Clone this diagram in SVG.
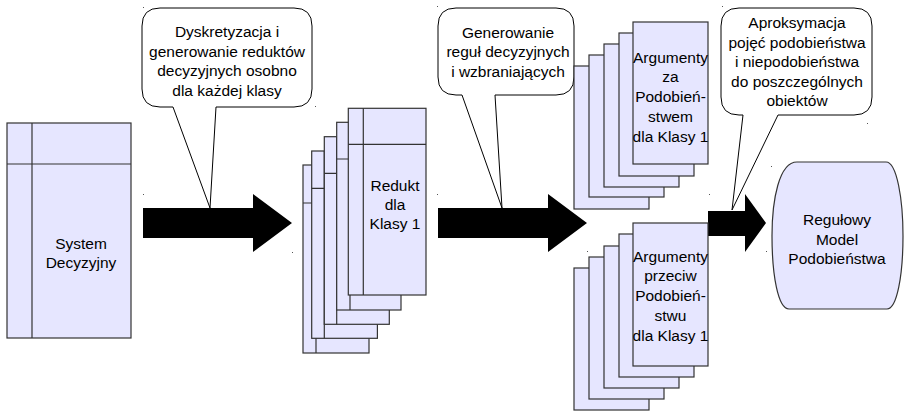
<svg xmlns="http://www.w3.org/2000/svg" width="904" height="411" viewBox="0 0 904 411">
<style>
.card{fill:#e6e6ff;stroke:#333;stroke-width:1.2}
.ln{stroke:#333;stroke-width:1.2;fill:none}
.call{fill:#fff;stroke:#000;stroke-width:1}
.arrow{fill:#000;stroke:none}
.t{font-family:"Liberation Sans",Arial,sans-serif;font-size:15.5px;fill:#000;text-anchor:middle}
.dot{fill:#555}
</style>
<rect width="904" height="411" fill="#fff"/>

<g id="connectors">
<path class="arrow" d="M143,208 H253 V194 L292,223 L253,252 V238 H143 Z"/>
<path class="arrow" d="M438,208 H548 V194 L587,223 L548,252 V238 H438 Z"/>
<path class="arrow" d="M708,211 H745 V194 L766,223 L745,252 V236 H708 Z"/>
</g>

<g id="system-decyzyjny">
<rect class="card" x="7" y="123" width="124" height="215"/>
<line class="ln" x1="32" y1="123" x2="32" y2="338"/>
<line class="ln" x1="7" y1="164" x2="131" y2="164"/>
<text class="t" x="81" y="249">System</text>
<text class="t" x="81" y="268">Decyzyjny</text>
</g>

<g id="callout-1">
<path class="call" d="M160,8 H294 Q312,8 312,26 V89 Q312,107 294,107 H216 L210,208 L173,107 H160 Q142,107 142,89 V26 Q142,8 160,8 Z"/>
<text class="t" x="227" y="37">Dyskretyzacja i</text>
<text class="t" x="227" y="57">generowanie reduktów</text>
<text class="t" x="227" y="76">decyzyjnych osobno</text>
<text class="t" x="227" y="96">dla każdej klasy</text>
</g>

<g id="redukt-stack">
<rect class="card" x="303" y="165" width="66" height="188"/>
<line class="ln" x1="316" y1="165" x2="316" y2="353"/>
<line class="ln" x1="303" y1="203" x2="369" y2="203"/>
<rect class="card" x="311.7" y="151" width="65.7" height="187.3"/>
<line class="ln" x1="324.3" y1="151" x2="324.3" y2="338.3"/>
<line class="ln" x1="311.7" y1="188.3" x2="377.4" y2="188.3"/>
<rect class="card" x="324.3" y="136.7" width="65" height="187.6"/>
<line class="ln" x1="336.7" y1="136.7" x2="336.7" y2="324.3"/>
<line class="ln" x1="324.3" y1="173.3" x2="389.3" y2="173.3"/>
<rect class="card" x="336.7" y="122.3" width="64.3" height="187.7"/>
<line class="ln" x1="350" y1="122.3" x2="350" y2="310"/>
<line class="ln" x1="336.7" y1="159" x2="401" y2="159"/>
<rect class="card" x="348.3" y="108.3" width="77.7" height="186.7"/>
<line class="ln" x1="363.3" y1="108.3" x2="363.3" y2="295"/>
<line class="ln" x1="348.3" y1="144.3" x2="426" y2="144.3"/>
<text class="t" x="395" y="191">Redukt</text>
<text class="t" x="395" y="210">dla</text>
<text class="t" x="395" y="229">Klasy 1</text>
</g>

<g id="callout-2">
<path class="call" d="M456,8 H556 Q574,8 574,26 V77 Q574,95 556,95 H495 L502,208 L462,95 H456 Q438,95 438,77 V26 Q438,8 456,8 Z"/>
<text class="t" x="508" y="38">Generowanie</text>
<text class="t" x="508" y="57">reguł decyzyjnych</text>
<text class="t" x="508" y="77">i wzbraniających</text>
</g>

<g id="argumenty-za">
<rect class="card" x="574" y="66" width="75" height="143"/>
<rect class="card" x="589" y="55" width="75" height="142"/>
<rect class="card" x="604" y="44" width="75" height="143"/>
<rect class="card" x="619" y="33" width="75" height="143"/>
<rect class="card" x="633" y="22" width="75" height="142"/>
<text class="t" x="670.5" y="63">Argumenty</text>
<text class="t" x="670.5" y="82">za</text>
<text class="t" x="670.5" y="102">Podobień-</text>
<text class="t" x="670.5" y="122">stwem</text>
<text class="t" x="670.5" y="142">dla Klasy 1</text>
</g>

<g id="argumenty-przeciw">
<rect class="card" x="574" y="268" width="75" height="142"/>
<rect class="card" x="589" y="257" width="75" height="142"/>
<rect class="card" x="604" y="246" width="75" height="142"/>
<rect class="card" x="619" y="234" width="75" height="143"/>
<rect class="card" x="633" y="223" width="75" height="143"/>
<text class="t" x="670.5" y="262">Argumenty</text>
<text class="t" x="670.5" y="281">przeciw</text>
<text class="t" x="670.5" y="301">Podobień-</text>
<text class="t" x="670.5" y="321">stwu</text>
<text class="t" x="670.5" y="341">dla Klasy 1</text>
</g>

<g id="callout-3">
<path class="call" d="M739,8 H854 Q872,8 872,26 V97 Q872,115 854,115 H778 L732,210 L743,115 H739 Q721,115 721,97 V26 Q721,8 739,8 Z"/>
<text class="t" x="797" y="28">Aproksymacja</text>
<text class="t" x="797" y="48">pojęć podobieństwa</text>
<text class="t" x="797" y="67">i niepodobieństwa</text>
<text class="t" x="797" y="87">do poszczególnych</text>
<text class="t" x="797" y="106">obiektów</text>
</g>

<g id="model-podobienstwa">
<path class="card" d="M797,162 H886 C897,162 903,200 903,236 C903,275 897,309 887,309 H789 C778,309 772,275 772,236 C772,200 779,162 797,162 Z"/>
<text class="t" x="837" y="225">Regułowy</text>
<text class="t" x="837" y="245">Model</text>
<text class="t" x="837" y="264">Podobieństwa</text>
</g>

<g id="marks">
<rect class="dot" x="143" y="194" width="1" height="1"/>
<rect class="dot" x="292" y="252" width="1" height="1"/>
<rect class="dot" x="437" y="194" width="1" height="1"/>
<rect class="dot" x="587" y="251" width="1" height="1"/>
<rect class="dot" x="709" y="194" width="1" height="1"/>
<rect class="dot" x="766" y="251" width="1" height="1"/>
<rect class="dot" x="771" y="166" width="1" height="1"/>
<rect class="dot" x="315" y="106" width="1" height="1"/>
<rect class="dot" x="143" y="7" width="1" height="1"/>
<rect class="dot" x="437" y="6" width="1" height="1"/>
<rect class="dot" x="722" y="6" width="1" height="1"/>
<rect class="dot" x="867" y="123" width="1" height="1"/>
</g>
</svg>
